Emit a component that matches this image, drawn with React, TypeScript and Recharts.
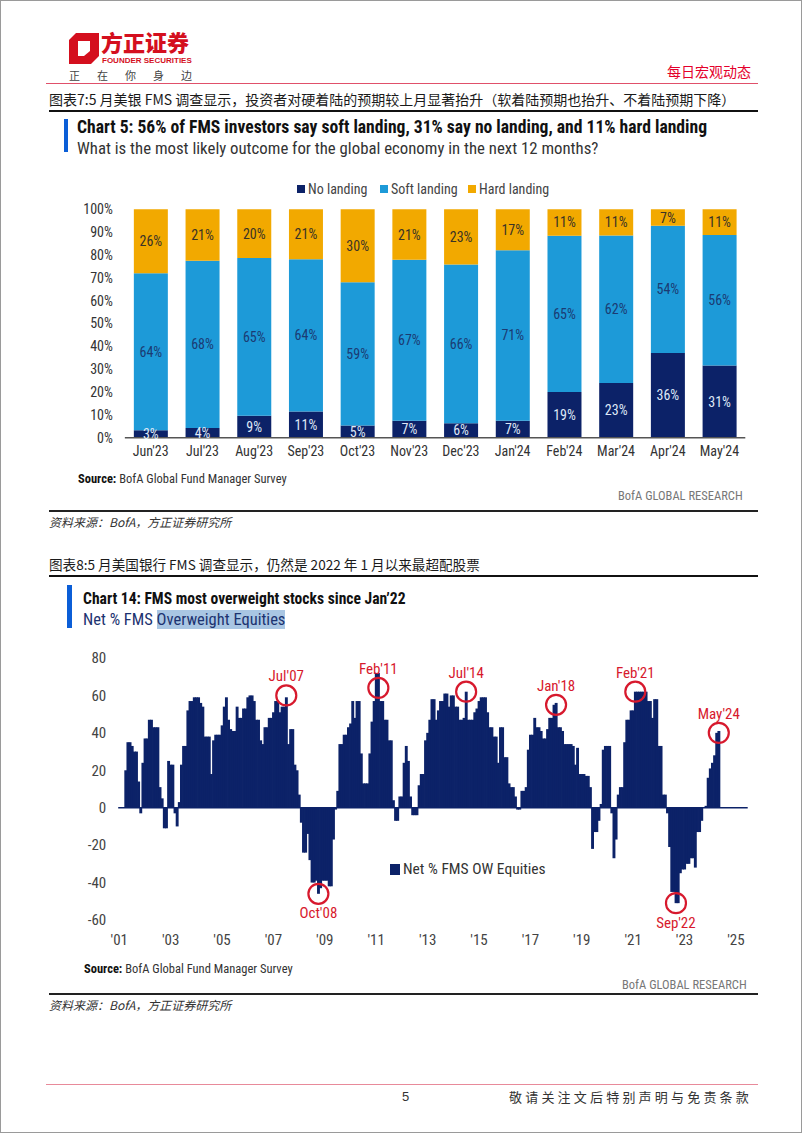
import React from 'react';
import { BarChart, Bar, XAxis, YAxis, LabelList, ReferenceLine, ReferenceDot } from 'recharts';

const NARROW = "'Liberation Sans Narrow', 'Arial Narrow', 'Roboto Condensed', Roboto, sans-serif";
const CJK = "'Noto Sans CJK SC', 'Noto Sans', sans-serif";
const RED = '#d7192d';
const NAVY = '#0c2268';
const SKY = '#1d9ad8';
const AMBER = '#f2a900';

// Chart 5 – outcome for global economy
const surveyMonths = ["Jun'23", "Jul'23", "Aug'23", "Sep'23", "Oct'23", "Nov'23", "Dec'23", "Jan'24", "Feb'24", "Mar'24", "Apr'24", "May'24"];
const noLanding = [3, 4, 9, 11, 5, 7, 6, 7, 19, 23, 36, 31];
const softLanding = [64, 68, 65, 64, 59, 67, 66, 71, 65, 62, 54, 56];
const hardLanding = [26, 21, 20, 21, 30, 21, 23, 17, 11, 11, 7, 11];
const pctTicks = [0, 0.1, 0.2, 0.3, 0.4, 0.5, 0.6, 0.7, 0.8, 0.9, 1];

const surveyRows = surveyMonths.map((m, i) => ({
  month: m,
  no: noLanding[i],
  soft: softLanding[i],
  hard: hardLanding[i],
}));

// Chart 14 – net % FMS overweight equities (monthly, Apr 2001 – May 2024)
const ow2001 = [20, 35, 35, 33, 30, 30, 14, -3, 24]; // Apr–Dec
const ow2002 = [37, 37, 47, 47, 43, 43, 43, 11, 5, -11, -11, 25];
const ow2003 = [23, 23, -3, -10, 3, 23, 33, 33, 52, 57, 57, 59];
const ow2004 = [59, 59, 56, 54, 38, 38, 38, 18, 36, 39, 39, 39];
const ow2005 = [44, 54, 59, 47, 42, 41, 41, 54, 48, 48, 53, 53];
const ow2006 = [59, 60, 60, 57, 47, 47, 36, 34, 43, 43, 48, 48];
const ow2007 = [51, 57, 57, 51, 54, 54, 59, 34, 42, 42, 23, 20];
const ow2008 = [7, -8, -24, -24, -14, -28, -40, -40, -39, -46, -43, -39];
const ow2009 = [-39, -39, -42, -42, -17, -1, 9, 34, 34, 39, 39, 43];
const ow2010 = [45, 57, 48, 57, 57, 29, 13, 13, 13, 29, 46, 57];
const ow2011 = [72, 72, 57, 57, 47, 47, 36, 36, 4, -7, -7, 6];
const ow2012 = [6, 24, 33, 25, 6, -4, -4, -4, 12, 18, 18, 36];
const ow2013 = [40, 47, 58, 58, 47, 52, 57, 57, 61, 61, 54, 60];
const ow2014 = [60, 54, 54, 47, 47, 48, 62, 47, 47, 47, 51, 53];
const ow2015 = [57, 59, 59, 59, 51, 43, 43, 38, 38, 24, 43, 43];
const ow2016 = [27, 27, 13, 11, 11, 6, -1, -1, 9, 9, 11, 31];
const ow2017 = [39, 39, 48, 43, 43, 41, 37, 37, 42, 48, 48, 55];
const ow2018 = [56, 43, 43, 41, 34, 34, 34, 34, 33, 23, 32, 18];
const ow2019 = [18, 18, 17, 17, 11, -22, -13, -13, -7, 2, 31, 33];
const ow2020 = [33, 33, -3, -27, -17, 7, 11, 11, 35, 47, 47, 52];
const ow2021 = [52, 62, 62, 62, 62, 62, 62, 57, 57, 48, 58, 58];
const ow2022 = [33, 33, 7, 7, -3, -21, -45, -45, -51, -51, -35, -33];
const ow2023 = [-33, -30, -30, -27, -27, -32, -13, -13, -7, 0, 1, 16];
const ow2024 = [21, 24, 28, 40, 41]; // Jan–May

const netOwEquities = [
  ...ow2001, ...ow2002, ...ow2003, ...ow2004, ...ow2005, ...ow2006, ...ow2007, ...ow2008,
  ...ow2009, ...ow2010, ...ow2011, ...ow2012, ...ow2013, ...ow2014, ...ow2015, ...ow2016,
  ...ow2017, ...ow2018, ...ow2019, ...ow2020, ...ow2021, ...ow2022, ...ow2023, ...ow2024,
];
const firstDataMonth = '2001-04';
const lastAxisMonth = '2025-06';

const yearTickLabels = ["'01", "'03", "'05", "'07", "'09", "'11", "'13", "'15", "'17", "'19", "'21", "'23", "'25"];
const yearTicks = yearTickLabels.map((l) => `20${l.slice(1)}-01`);
const owTicks = [-60, -40, -20, 0, 20, 40, 60, 80];

const annotations = [
  { label: "Jul'07", month: '2007-07', value: 60, side: 'top' },
  { label: "Feb'11", month: '2011-02', value: 64, side: 'top' },
  { label: "Jul'14", month: '2014-07', value: 62, side: 'top' },
  { label: "Jan'18", month: '2018-01', value: 55, side: 'top' },
  { label: "Feb'21", month: '2021-02', value: 62, side: 'top' },
  { label: "May'24", month: '2024-05', value: 40, side: 'top' },
  { label: "Oct'08", month: '2008-10', value: -46, side: 'bottom' },
  { label: "Sep'22", month: '2022-09', value: -51, side: 'bottom' },
];

// month axis: Jan 2001 .. Jun 2025, values from Apr 2001
const owRows: { month: string; value: number | null }[] = [];
for (let y = 2001; y <= 2025; y++) {
  for (let m = 1; m <= 12; m++) {
    const key = `${y}-${String(m).padStart(2, '0')}`;
    owRows.push({ month: key, value: null });
    if (key === lastAxisMonth) break;
  }
}
const startIdx = owRows.findIndex((r) => r.month === firstDataMonth);
netOwEquities.forEach((v, i) => {
  owRows[startIdx + i].value = v;
});

// recharts rounds the bar width down, so widen a touch to close the seams
function FlatBar(p: any) {
  if (p.height == null || p.width == null) return null;
  const y = Math.min(p.y, p.y + p.height);
  const h = Math.abs(p.height);
  return <rect x={p.x - 0.3} y={y} width={p.width + 0.9} height={h} fill={NAVY} />;
}

function Txt({ x, y, size, children, style }: any) {
  return (
    <div
      style={{
        position: 'absolute',
        left: x,
        top: y - size * 0.6,
        fontSize: size,
        lineHeight: 1.2,
        whiteSpace: 'nowrap',
        ...style,
      }}
    >
      {children}
    </div>
  );
}

function Line({ x, y, w, h, color }: any) {
  return <div style={{ position: 'absolute', left: x, top: y, width: w, height: h, background: color }} />;
}

const legendItems = [
  { name: 'No landing', color: NAVY, x: 296 },
  { name: 'Soft landing', color: SKY, x: 379 },
  { name: 'Hard landing', color: AMBER, x: 467 },
];

export default function App() {
  const axisTick = { fill: '#333', fontSize: 14, fontFamily: NARROW };
  return (
    <div
      style={{
        position: 'absolute',
        left: 0,
        top: 0,
        width: 802,
        height: 1133,
        background: '#fff',
        overflow: 'hidden',
        border: '1px solid #9a9a9a',
        boxSizing: 'border-box',
      }}
    >
      {/* header */}
      <svg style={{ position: 'absolute', left: 68, top: 32 }} width={30} height={31}>
        <path d="M7 0 H30 V23 L22 31 H0 V7 Z" fill="#d40f1e" />
        <path d="M9 8 H21 V18 L15 23 H9 Z" fill="#fff" />
      </svg>
      <Txt x={100} y={42} size={22} style={{ fontFamily: CJK, fontWeight: 900, color: '#d40f1e', lineHeight: 1 }}>方正证券</Txt>
      <Txt x={101} y={61} size={8} style={{ fontFamily: "'Liberation Sans', Arial, sans-serif", fontWeight: 700, color: '#d40f1e', lineHeight: 1 }}>
        FOUNDER SECURITIES
      </Txt>
      <Txt x={68} y={75} size={11} style={{ fontFamily: CJK, color: '#444', letterSpacing: 17 }}>正在你身边</Txt>
      <Txt x={666} y={70} size={14} style={{ fontFamily: CJK, color: '#e4002b' }}>每日宏观动态</Txt>
      <Line x={45} y={82} w={712} h={1} color="#e0506a" />

      {/* figure 7 */}
      <Txt x={48} y={98} size={14} style={{ fontFamily: CJK, color: '#1a1a1a' }}>
        图表7:5 月美银 FMS 调查显示，投资者对硬着陆的预期较上月显著抬升（软着陆预期也抬升、不着陆预期下降）
      </Txt>
      <Line x={48} y={109} w={709} h={2} color="#111" />
      <Line x={63} y={118} w={4} h={33} color="#0b5ed7" />
      <Txt x={76} y={127} size={17.6} style={{ fontFamily: NARROW, fontWeight: 700, color: '#111' }}>
        Chart 5: 56% of FMS investors say soft landing, 31% say no landing, and 11% hard landing
      </Txt>
      <Txt x={76} y={147} size={16.8} style={{ fontFamily: NARROW, color: '#333' }}>
        What is the most likely outcome for the global economy in the next 12 months?
      </Txt>
      {legendItems.map((it) => (
        <div key={it.name} style={{ position: 'absolute', left: it.x, top: 181, display: 'flex', alignItems: 'center' }}>
          <div style={{ width: 8, height: 8, background: it.color, marginRight: 3 }} />
          <span style={{ fontFamily: NARROW, fontSize: 14, color: '#444', lineHeight: '14px' }}>{it.name}</span>
        </div>
      ))}

      <div style={{ position: 'absolute', left: 0, top: 200 }}>
        <BarChart
          width={802}
          height={270}
          data={surveyRows}
          stackOffset="expand"
          barSize={34}
          margin={{ top: 8.3, right: 57.7, bottom: 3.3, left: 0 }}
        >
          <XAxis
            dataKey="month"
            interval={0}
            tickLine={false}
            axisLine={{ stroke: '#555', strokeWidth: 1.5 }}
            tick={axisTick}
          />
          <YAxis
            domain={[0, 1]}
            ticks={pctTicks}
            tickFormatter={(v: number) => `${Math.round(v * 100)}%`}
            axisLine={false}
            tickLine={false}
            width={123.85}
            tickMargin={6}
            tick={axisTick}
          />
          <Bar dataKey="no" stackId="s" fill={NAVY} isAnimationActive={false}>
            <LabelList dataKey="no" position="center" formatter={(v: any) => `${v}%`} fill="#dfe8f7" fontSize={14} fontFamily={NARROW} />
          </Bar>
          <Bar dataKey="soft" stackId="s" fill={SKY} isAnimationActive={false}>
            <LabelList dataKey="soft" position="center" formatter={(v: any) => `${v}%`} fill="#1b3b73" fontSize={14} fontFamily={NARROW} />
          </Bar>
          <Bar dataKey="hard" stackId="s" fill={AMBER} isAnimationActive={false}>
            <LabelList dataKey="hard" position="center" formatter={(v: any) => `${v}%`} fill="#3a3326" fontSize={14} fontFamily={NARROW} />
          </Bar>
        </BarChart>
      </div>

      <Txt x={77} y={477} size={12.5} style={{ fontFamily: NARROW, color: '#333' }}>
        <b style={{ color: '#111' }}>Source:</b> BofA Global Fund Manager Survey
      </Txt>
      <Txt x={617} y={494} size={12.5} style={{ fontFamily: NARROW, color: '#777' }}>BofA GLOBAL RESEARCH</Txt>
      <Line x={48} y={509} w={709} h={1.5} color="#222" />
      <Txt x={48} y={521} size={12} style={{ fontFamily: CJK, fontStyle: 'italic', color: '#333' }}>资料来源：BofA，方正证券研究所</Txt>

      {/* figure 8 */}
      <Txt x={48} y={563} size={13.6} style={{ fontFamily: CJK, color: '#1a1a1a' }}>
        图表8:5 月美国银行 FMS 调查显示，仍然是 2022 年 1 月以来最超配股票
      </Txt>
      <Line x={48} y={574} w={709} h={2} color="#111" />
      <Line x={66} y={584} w={5} h={43} color="#0b5ed7" />
      <Txt x={82} y={598} size={15.6} style={{ fontFamily: NARROW, fontWeight: 700, color: '#111' }}>
        Chart 14: FMS most overweight stocks since Jan’22
      </Txt>
      <Txt x={82} y={619} size={16.5} style={{ fontFamily: NARROW, color: '#1c3370' }}>
        Net % FMS <span style={{ background: '#a9c6e3' }}>Overweight Equities</span>
      </Txt>

      <div style={{ position: 'absolute', left: 0, top: 640 }}>
        <BarChart
          width={802}
          height={320}
          data={owRows}
          barCategoryGap={0}
          barGap={0}
          margin={{ top: 17, right: 55.3, bottom: 11, left: 0 }}
        >
          <XAxis
            dataKey="month"
            ticks={yearTicks}
            interval={0}
            tickFormatter={(v: string) => {
              const i = yearTicks.indexOf(v);
              return i >= 0 ? yearTickLabels[i] : '';
            }}
            tickLine={false}
            axisLine={false}
            tickMargin={8}
            height={30}
            tick={{ fill: '#444', fontSize: 15, fontFamily: NARROW }}
          />
          <YAxis
            domain={[-60, 80]}
            ticks={owTicks}
            width={117.2}
            axisLine={false}
            tickLine={false}
            tickMargin={6}
            tick={{ fill: '#444', fontSize: 15, fontFamily: NARROW }}
          />
          <Bar dataKey="value" fill={NAVY} isAnimationActive={false} shape={FlatBar} />
          <ReferenceLine y={0} stroke={NAVY} strokeWidth={1.5} />
          {annotations.map((a) => (
            <ReferenceDot
              key={a.label}
              x={a.month}
              y={a.value}
              r={10}
              fill="none"
              stroke={RED}
              strokeWidth={2.2}
              label={{ value: a.label, position: a.side, offset: 4, fill: RED, fontSize: 15, fontFamily: NARROW }}
            />
          ))}
        </BarChart>
      </div>

      <div style={{ position: 'absolute', left: 389, top: 860, display: 'flex', alignItems: 'center' }}>
        <div style={{ width: 10, height: 11, background: NAVY, marginRight: 3 }} />
        <span style={{ fontFamily: NARROW, fontSize: 15.5, color: '#333', lineHeight: '16px' }}>Net % FMS OW Equities</span>
      </div>

      <Txt x={83} y={967} size={12.5} style={{ fontFamily: NARROW, color: '#333' }}>
        <b style={{ color: '#111' }}>Source:</b> BofA Global Fund Manager Survey
      </Txt>
      <Txt x={621} y={983} size={12.5} style={{ fontFamily: NARROW, color: '#777' }}>BofA GLOBAL RESEARCH</Txt>
      <Line x={48} y={992} w={709} h={1.5} color="#222" />
      <Txt x={48} y={1004} size={12} style={{ fontFamily: CJK, fontStyle: 'italic', color: '#333' }}>资料来源：BofA，方正证券研究所</Txt>

      {/* footer */}
      <Line x={45} y={1083} w={712} h={1} color="#e88a9a" />
      <Txt x={401} y={1096} size={13} style={{ fontFamily: "'Liberation Sans', Arial, sans-serif", color: '#333' }}>5</Txt>
      <Txt x={508} y={1096} size={13} style={{ fontFamily: CJK, color: '#333', letterSpacing: 3.2 }}>敬请关注文后特别声明与免责条款</Txt>
    </div>
  );
}
